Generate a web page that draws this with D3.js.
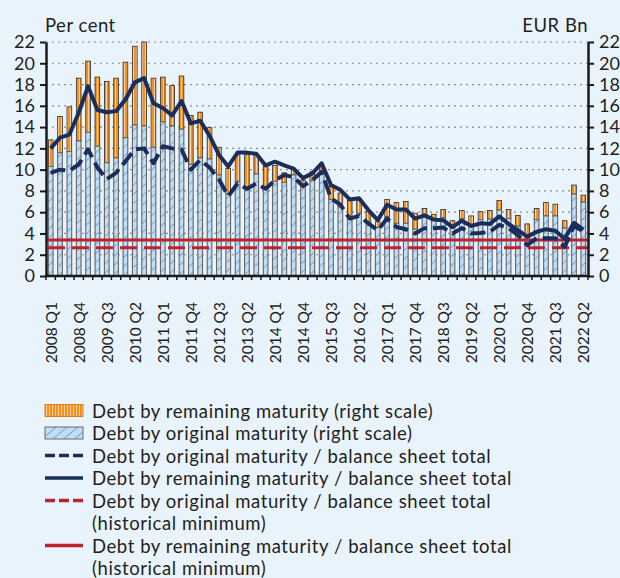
<!DOCTYPE html>
<html>
<head>
<meta charset="utf-8">
<script src="https://cdn.jsdelivr.net/npm/d3@7"></script>
<style>
  body { margin: 0; background: #e9f3fb; }
  svg { display: block; }
  text { font-family: Lato, "Open Sans", sans-serif; fill: #231f20; }
</style>
</head>
<body>
<svg id="chart" width="620" height="578"></svg>
<script>
// quarters 2008 Q1 .. 2022 Q2
const quarters = [];
for (let yr = 2008; yr <= 2022; yr++) {
  for (let q = 1; q <= 4; q++) {
    if (yr === 2022 && q > 2) break;
    quarters.push(yr + ' Q' + q);
  }
}

// EUR bn, right scale
const debtRemaining = [12.8, 15.0, 15.9, 18.6, 20.2, 18.7, 18.3, 18.6, 20.1, 21.6,
  22.0, 18.6, 18.7, 17.9, 18.8, 15.1, 15.4, 13.95, 12.1, 10.1,
  11.4, 11.4, 11.4, 10.3, 10.4, 9.7, 10.0, 9.0, 9.8, 10.3,
  8.4, 7.8, 7.1, 7.1, 6.1, 5.1, 7.2, 6.9, 7.0, 5.9,
  6.35, 5.8, 6.25, 5.2, 6.15, 5.65, 6.05, 6.15, 7.1, 6.25,
  5.7, 4.9, 6.35, 6.9, 6.75, 5.2, 8.55, 7.6];
const debtOriginal = [10.3, 11.6, 11.7, 12.7, 13.5, 12.2, 10.65, 11.1, 13.0, 14.2,
  14.1, 12.1, 14.5, 14.1, 13.8, 10.5, 11.1, 11.0, 9.5, 7.7,
  8.9, 8.1, 9.6, 8.3, 8.9, 8.8, 9.5, 8.55, 9.0, 9.65,
  7.2, 6.5, 5.6, 5.9, 5.1, 4.55, 5.6, 4.95, 4.95, 4.4,
  5.5, 5.35, 5.5, 4.55, 5.4, 4.7, 5.3, 5.35, 6.2, 5.4,
  4.7, 3.85, 5.3, 5.65, 5.65, 4.5, 7.7, 6.95];

// per cent, left scale
const ratioRemaining = [12.0, 13.0, 13.3, 15.35, 17.85, 15.6, 15.4, 15.5, 16.6, 18.2,
  18.6, 16.25, 15.8, 15.1, 16.45, 14.35, 14.6, 13.2, 11.4, 10.3,
  11.6, 11.6, 11.5, 10.4, 10.75, 10.4, 10.1, 9.2, 9.65, 10.6,
  8.55, 8.1, 7.2, 7.3, 6.2, 5.25, 6.7, 6.25, 6.25, 5.4,
  5.7, 5.3, 5.25, 4.6, 5.2, 4.7, 4.95, 4.9, 5.6, 4.9,
  4.3, 3.7, 4.15, 4.4, 4.25, 3.5, 5.0, 4.35];
const ratioOriginal = [9.7, 10.0, 9.9, 10.5, 11.9, 10.2, 9.1, 9.7, 10.8, 11.9,
  12.0, 10.6, 12.2, 12.0, 11.9, 10.0, 10.9, 10.2, 9.1, 7.5,
  8.7, 8.2, 8.7, 8.2, 9.0, 9.5, 9.3, 8.45, 9.0, 9.8,
  7.3, 6.7, 5.4, 5.65, 4.95, 4.3, 5.4, 4.6, 4.4, 4.0,
  4.5, 4.5, 4.55, 4.0, 4.5, 4.0, 4.05, 4.15, 4.8, 4.5,
  3.85, 2.9, 3.55, 3.55, 3.55, 2.75, 4.7, 4.2];

const minRemaining = 3.38;
const minOriginal = 2.65;

const yTicks = [0, 2, 4, 6, 8, 10, 12, 14, 16, 18, 20, 22];

const legendItems = [
  { kind: 'orange', label: ['Debt by remaining maturity (right scale)'] },
  { kind: 'blue', label: ['Debt by original maturity (right scale)'] },
  { kind: 'navyDash', label: ['Debt by original maturity / balance sheet total'] },
  { kind: 'navy', label: ['Debt by remaining maturity / balance sheet total'] },
  { kind: 'redDash', label: ['Debt by original maturity / balance sheet total', '(historical minimum)'] },
  { kind: 'red', label: ['Debt by remaining maturity / balance sheet total', '(historical minimum)'] }
];

const colors = {
  orange: '#f7901e',
  blueFill: '#c3ddf2',
  blueHatch: '#5b9bd5',
  navy: '#1b2d5a',
  red: '#be2130',
  grid: '#8a8a8a'
};

const svg = d3.select('#chart');
const plot = { left: 46, right: 588, top: 42, bottom: 276 };

const x = d3.scaleBand().domain(quarters).range([plot.left, plot.right]).padding(0);
const y = d3.scaleLinear().domain([0, 22]).range([plot.bottom, plot.top]);
const bw = x.bandwidth();
const cx = d => x(d) + bw / 2;

// patterns
const defs = svg.append('defs');
const po = defs.append('pattern').attr('id', 'orangeStripe')
  .attr('patternUnits', 'userSpaceOnUse').attr('width', 3).attr('height', 3);
po.append('rect').attr('width', 3).attr('height', 3).attr('fill', colors.orange);
po.append('line').attr('x1', 1.5).attr('x2', 1.5).attr('y1', 0).attr('y2', 3)
  .attr('stroke', '#fcd9b0').attr('stroke-width', 0.9);

const pb = defs.append('pattern').attr('id', 'blueHatch')
  .attr('patternUnits', 'userSpaceOnUse').attr('width', 7).attr('height', 7)
  .attr('patternTransform', 'rotate(-40)');
pb.append('rect').attr('width', 7).attr('height', 7).attr('fill', colors.blueFill);
pb.append('line').attr('x1', 0).attr('x2', 7).attr('y1', 3.5).attr('y2', 3.5)
  .attr('stroke', colors.blueHatch).attr('stroke-width', 0.8);

// grid
svg.append('g').selectAll('line').data(yTicks.filter(t => t > 0)).join('line')
  .attr('x1', plot.left).attr('x2', plot.right)
  .attr('y1', d => y(d)).attr('y2', d => y(d))
  .attr('stroke', colors.grid).attr('stroke-width', 1.2)
  .attr('stroke-dasharray', '2,4');

// bars: orange part above the original-maturity part
const bars = svg.append('g');
const barW = bw * 0.5;
bars.selectAll('rect.rem').data(quarters).join('rect')
  .attr('class', 'rem')
  .attr('x', d => cx(d) - barW / 2)
  .attr('width', barW)
  .attr('y', (d, i) => y(debtRemaining[i]))
  .attr('height', (d, i) => y(debtOriginal[i]) - y(debtRemaining[i]))
  .attr('fill', 'url(#orangeStripe)')
  .attr('stroke', '#2b2b2b').attr('stroke-width', 0.8);
bars.selectAll('rect.orig').data(quarters).join('rect')
  .attr('class', 'orig')
  .attr('x', d => cx(d) - barW / 2)
  .attr('width', barW)
  .attr('y', (d, i) => y(debtOriginal[i]))
  .attr('height', (d, i) => y(0) - y(debtOriginal[i]))
  .attr('fill', 'url(#blueHatch)')
  .attr('stroke', '#666').attr('stroke-width', 1.1);

// historical minimum lines
svg.append('line').attr('x1', plot.left).attr('x2', plot.right)
  .attr('y1', y(minRemaining)).attr('y2', y(minRemaining))
  .attr('stroke', colors.red).attr('stroke-width', 3);
svg.append('line').attr('x1', plot.left + 2).attr('x2', plot.right)
  .attr('y1', y(minOriginal)).attr('y2', y(minOriginal))
  .attr('stroke', colors.red).attr('stroke-width', 3)
  .attr('stroke-dasharray', '17,7');

// ratio lines
const line = d3.line().x((d, i) => cx(quarters[i])).y(d => y(d));
svg.append('path').datum(ratioOriginal).attr('d', line)
  .attr('fill', 'none').attr('stroke', colors.navy).attr('stroke-width', 4)
  .attr('stroke-dasharray', '15,6').attr('stroke-linejoin', 'round');
svg.append('path').datum(ratioRemaining).attr('d', line)
  .attr('fill', 'none').attr('stroke', colors.navy).attr('stroke-width', 4)
  .attr('stroke-linejoin', 'round');

// axes
const yLeft = svg.append('g').attr('transform', `translate(${plot.left},0)`)
  .call(d3.axisLeft(y).tickValues(yTicks).tickSize(6).tickSizeOuter(0).tickPadding(5));
const yRight = svg.append('g').attr('transform', `translate(${plot.right},0)`)
  .call(d3.axisRight(y).tickValues(yTicks).tickSize(6).tickSizeOuter(0).tickPadding(5));
[yLeft, yRight].forEach(g => {
  g.select('.domain').attr('stroke', '#1a1a1a').attr('stroke-width', 2.5);
  g.selectAll('.tick line').attr('stroke', '#1a1a1a').attr('stroke-width', 2);
  g.selectAll('.tick text').attr('font-family', 'Lato, sans-serif')
    .attr('font-size', 18).attr('fill', '#231f20');
});

const xAxis = svg.append('g').attr('transform', `translate(0,${plot.bottom})`);
xAxis.append('line').attr('x1', plot.left - 1).attr('x2', plot.right + 1)
  .attr('stroke', '#1a1a1a').attr('stroke-width', 2.5);
xAxis.selectAll('line.tk').data(quarters.concat(['end'])).join('line')
  .attr('class', 'tk')
  .attr('x1', (d, i) => plot.left + i * bw).attr('x2', (d, i) => plot.left + i * bw)
  .attr('y1', 0).attr('y2', 4)
  .attr('stroke', '#1a1a1a').attr('stroke-width', 1.5);

svg.append('g').selectAll('text').data(quarters.filter((d, i) => i % 3 === 0)).join('text')
  .attr('transform', d => `translate(${cx(d)},302) rotate(-90)`)
  .attr('text-anchor', 'end').attr('dominant-baseline', 'central')
  .attr('font-family', '"Liberation Sans", Arial, sans-serif')
  .attr('font-size', 15.5).attr('fill', '#2a2a2a')
  .text(d => d);

svg.append('text').attr('x', 45).attr('y', 32).attr('font-size', 18.5)
  .attr('letter-spacing', 0.5).text('Per cent');
svg.append('text').attr('x', 588).attr('y', 32).attr('font-size', 18.5)
  .attr('letter-spacing', 0.5).attr('text-anchor', 'end').text('EUR Bn');

// legend
const lg = svg.append('g');
const rowH = 22.5;
let ly = 410.5;
legendItems.forEach(item => {
  const g = lg.append('g').attr('transform', `translate(0,${ly})`);
  if (item.kind === 'orange' || item.kind === 'blue') {
    g.append('rect').attr('x', 45).attr('y', -6).attr('width', 38).attr('height', 12)
      .attr('fill', item.kind === 'orange' ? 'url(#orangeStripe)' : 'url(#blueHatch)')
      .attr('stroke', item.kind === 'orange' ? '#e07b10' : '#6b6b6b').attr('stroke-width', 1);
  } else {
    const c = item.kind.startsWith('red') ? colors.red : colors.navy;
    g.append('line').attr('x1', 45).attr('x2', 83).attr('y1', 0).attr('y2', 0)
      .attr('stroke', c).attr('stroke-width', 3.5)
      .attr('stroke-dasharray', item.kind.endsWith('Dash') ? '10,4' : null);
  }
  item.label.forEach((t, j) => {
    g.append('text').attr('x', 92).attr('y', j * rowH)
      .attr('dominant-baseline', 'central').attr('font-size', 18.5)
      .attr('letter-spacing', 0.57).text(t);
  });
  ly += rowH * item.label.length;
});
</script>
</body>
</html>
